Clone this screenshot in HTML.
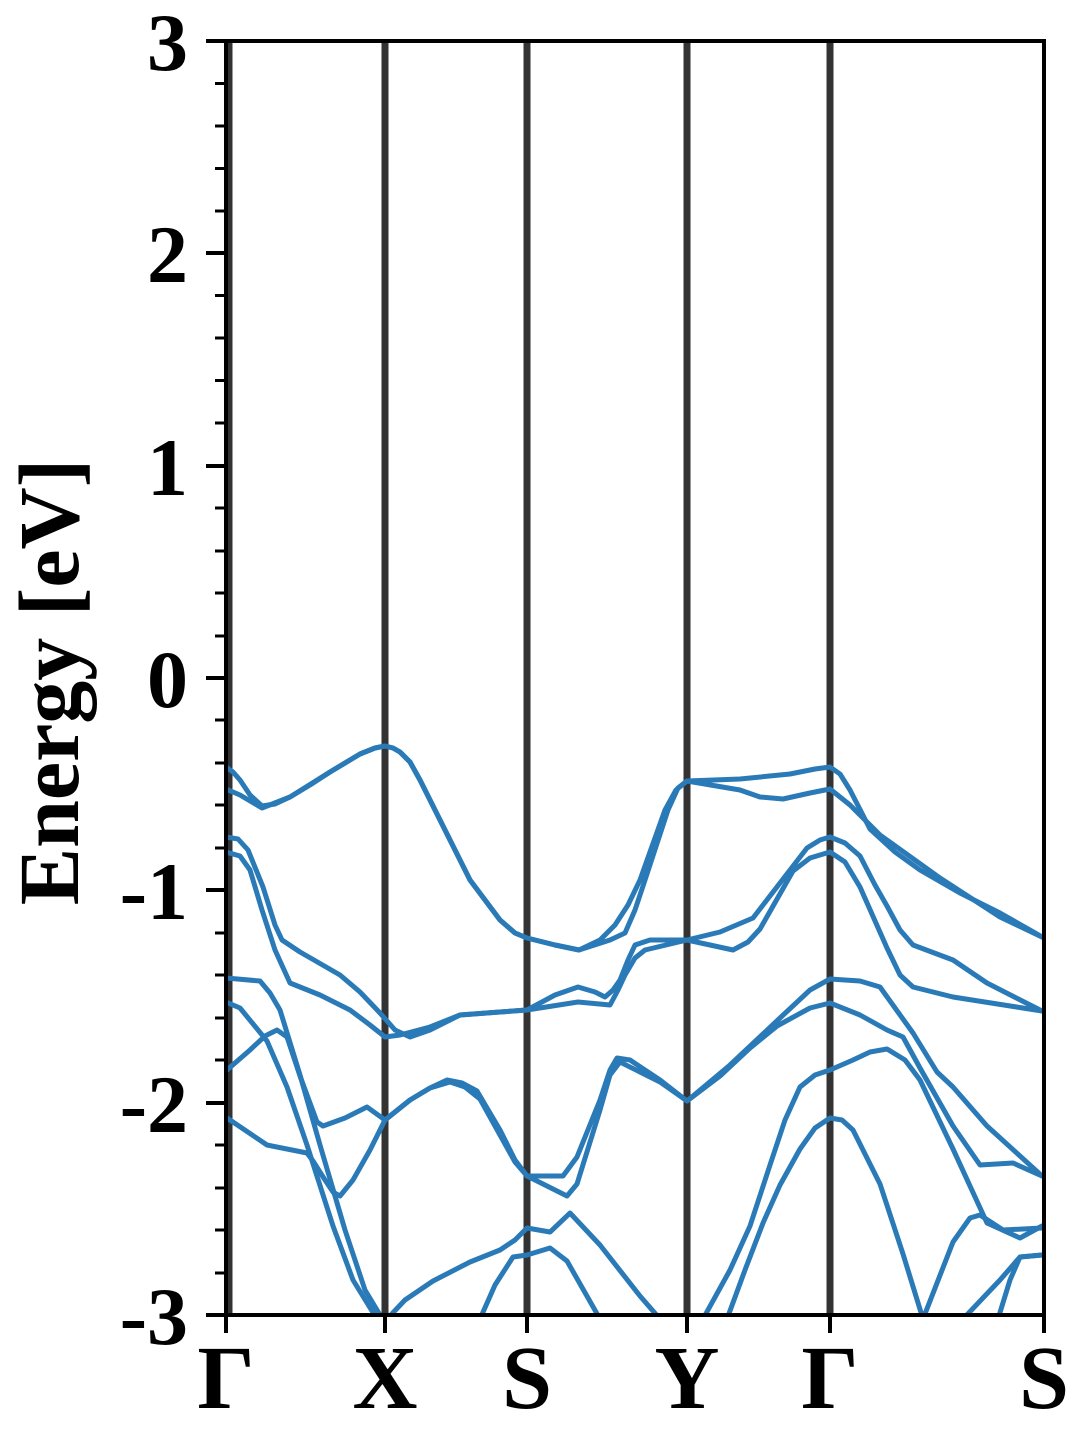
<!DOCTYPE html>
<html><head><meta charset="utf-8"><style>
html,body{margin:0;padding:0;background:#fff;}
svg{display:block;}
text{font-family:"Liberation Serif","Times New Roman",Times,"Nimbus Roman",serif;font-weight:bold;fill:#000;}
</style></head><body>
<svg width="1080" height="1440" viewBox="0 0 1080 1440" xmlns="http://www.w3.org/2000/svg">
<defs><clipPath id="c"><rect x="226" y="41" width="818" height="1274"/></clipPath></defs>
<g stroke="#333" stroke-width="7">
<line x1="385" y1="41" x2="385" y2="1315"/>
<line x1="527" y1="41" x2="527" y2="1315"/>
<line x1="687" y1="41" x2="687" y2="1315"/>
<line x1="830" y1="41" x2="830" y2="1315"/>
<line x1="229" y1="41" x2="229" y2="1315"/>
</g>
<g clip-path="url(#c)" fill="none" stroke="#2a7ab8" stroke-width="5" stroke-linejoin="round" stroke-linecap="round">
<polyline points="226,767 233,772 240,780 250,795 262,806 275,804 290,797 310,785 330,772 360,754 375,748 385,746 393,748 400,752 410,762 420,780 445,830 470,880 500,920 515,933 527,938 555,945 579,950 600,940 615,925 628,905 640,880 665,810 676,790 687,781 740,779 790,774 815,769 830,767 840,774 850,790 870,829 895,852 920,870 960,893 1000,913 1044,938"/>
<polyline points="226,789 240,795 262,808 290,797 330,772 360,754 375,748 385,746 393,748 400,752 410,762 420,780 445,830 470,880 500,920 515,933 527,938 555,945 579,950 610,940 625,933 635,910 645,880 668,810 678,788 687,781 740,790 760,797 783,799 810,793 830,789 850,805 880,835 940,878 1000,917 1044,938"/>
<polyline points="226,837 238,839 248,850 263,887 275,925 282,940 300,952 340,975 360,992 380,1013 395,1030 410,1037 430,1030 460,1015 500,1012 527,1010 555,995 578,987 595,992 605,997 613,990 620,980 628,960 635,945 650,940 687,940 720,932 753,918 780,883 807,848 820,840 830,837 845,843 860,856 875,885 887,906 900,930 913,945 953,960 987,983 1042,1011"/>
<polyline points="226,852 240,856 250,870 262,910 275,950 290,983 320,995 350,1010 370,1025 385,1037 400,1035 430,1027 460,1015 500,1012 527,1010 578,1002 610,1005 618,990 625,975 635,958 645,950 687,940 710,945 733,950 748,942 760,929 793,871 810,858 830,852 845,862 860,887 887,948 900,975 913,987 953,997 1042,1011"/>
<polyline points="227,1070 250,1050 265,1036 277,1030 287,1037 300,1076 317,1122 323,1126 345,1118 367,1107 385,1120 410,1100 430,1088 447,1080 462,1083 477,1091 500,1130 515,1160 527,1176 563,1176 577,1157 600,1100 610,1070 617,1058 630,1060 660,1080 687,1101 730,1065 780,1018 810,990 830,979 860,981 880,987 913,1033 937,1072 953,1087 987,1126 1042,1176"/>
<polyline points="227,1118 267,1145 307,1153 313,1161 325,1180 333,1192 340,1196 353,1180 370,1150 385,1120 410,1100 430,1088 450,1082 465,1087 480,1099 500,1135 515,1162 527,1176 567,1196 577,1184 600,1110 610,1075 620,1062 640,1072 660,1082 687,1101 720,1076 750,1048 777,1026 810,1008 830,1003 860,1015 887,1030 903,1037 920,1068 953,1126 980,1165 1013,1163 1042,1176"/>
<polyline points="226,978 260,981 270,993 280,1010 300,1075 320,1145 345,1230 365,1290 380,1315"/>
<polyline points="226,1002 240,1008 267,1041 287,1087 307,1145 333,1226 353,1280 377,1319"/>
<polyline points="703,1319 730,1270 750,1226 770,1165 785,1120 800,1087 815,1075 830,1070 853,1060 870,1052 887,1049 905,1060 920,1080 953,1149 987,1223 1020,1238 1042,1226"/>
<polyline points="727,1319 745,1270 763,1223 780,1185 800,1149 815,1128 830,1118 842,1120 853,1130 880,1184 903,1254 923,1319 953,1242 970,1218 980,1215 1003,1230 1042,1228"/>
<polyline points="963,1319 1000,1280 1020,1257 1042,1255"/>
<polyline points="998,1319 1010,1280 1020,1257 1042,1255"/>
<polyline points="387,1319 405,1300 433,1281 470,1262 500,1250 515,1240 527,1228 550,1232 570,1213 600,1245 640,1296 660,1319"/>
<polyline points="480,1319 495,1285 513,1257 527,1255 550,1248 567,1261 600,1319"/>
<polyline points="335,1318 345,1316 355,1318"/>
</g>
<rect x="226" y="41" width="818" height="1274" stroke="#000" stroke-width="4" fill="none"/>
<g stroke="#000" stroke-width="4">
<line x1="206" y1="41" x2="226" y2="41"/><line x1="206" y1="253" x2="226" y2="253"/>
<line x1="206" y1="466" x2="226" y2="466"/><line x1="206" y1="678" x2="226" y2="678"/>
<line x1="206" y1="890" x2="226" y2="890"/><line x1="206" y1="1103" x2="226" y2="1103"/>
<line x1="206" y1="1315" x2="226" y2="1315"/>
<line x1="226" y1="1315" x2="226" y2="1333"/><line x1="385" y1="1315" x2="385" y2="1333"/>
<line x1="527" y1="1315" x2="527" y2="1333"/><line x1="687" y1="1315" x2="687" y2="1333"/>
<line x1="830" y1="1315" x2="830" y2="1333"/><line x1="1044" y1="1315" x2="1044" y2="1333"/>
</g>
<g stroke="#000" stroke-width="3">
<line x1="215" y1="83.5" x2="226" y2="83.5"/><line x1="215" y1="126" x2="226" y2="126"/><line x1="215" y1="168.5" x2="226" y2="168.5"/><line x1="215" y1="211" x2="226" y2="211"/>
<line x1="215" y1="295.5" x2="226" y2="295.5"/><line x1="215" y1="338" x2="226" y2="338"/><line x1="215" y1="380.5" x2="226" y2="380.5"/><line x1="215" y1="423" x2="226" y2="423"/>
<line x1="215" y1="508" x2="226" y2="508"/><line x1="215" y1="551" x2="226" y2="551"/><line x1="215" y1="593" x2="226" y2="593"/><line x1="215" y1="636" x2="226" y2="636"/>
<line x1="215" y1="720" x2="226" y2="720"/><line x1="215" y1="763" x2="226" y2="763"/><line x1="215" y1="805" x2="226" y2="805"/><line x1="215" y1="848" x2="226" y2="848"/>
<line x1="215" y1="933" x2="226" y2="933"/><line x1="215" y1="975" x2="226" y2="975"/><line x1="215" y1="1018" x2="226" y2="1018"/><line x1="215" y1="1060" x2="226" y2="1060"/>
<line x1="215" y1="1145" x2="226" y2="1145"/><line x1="215" y1="1188" x2="226" y2="1188"/><line x1="215" y1="1230" x2="226" y2="1230"/><line x1="215" y1="1273" x2="226" y2="1273"/>
</g>
<g font-size="82" text-anchor="end">
<text x="188" y="70">3</text>
<text x="188" y="282">2</text>
<text x="188" y="495">1</text>
<text x="188" y="707">0</text>
<text x="188" y="919">-1</text>
<text x="188" y="1132">-2</text>
<text x="188" y="1344">-3</text>
</g>
<g font-size="90" text-anchor="middle">
<text x="226" y="1408">Γ</text>
<text x="385" y="1408">X</text>
<text x="527" y="1408">S</text>
<text x="687" y="1408">Y</text>
<text x="830" y="1408">Γ</text>
<text x="1044" y="1408">S</text>
</g>
<text font-size="86" text-anchor="middle" transform="translate(78,682) rotate(-90)">Energy [eV]</text>
</svg>
</body></html>
